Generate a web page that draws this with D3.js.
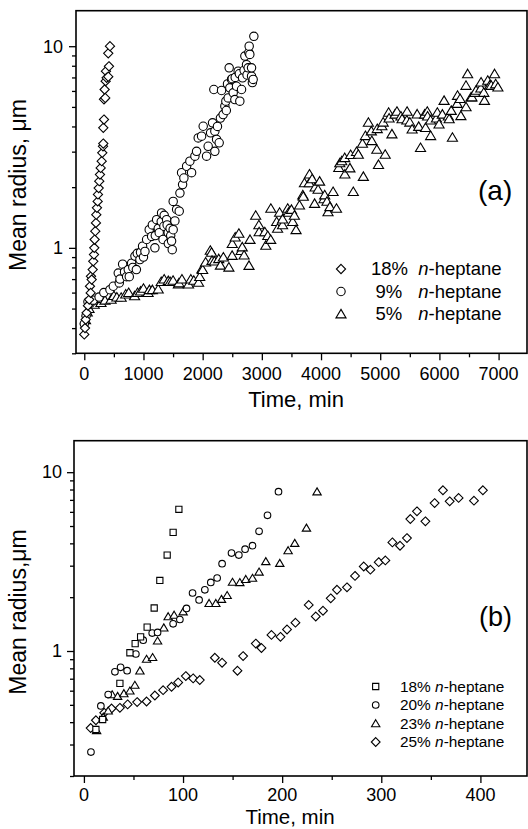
<!DOCTYPE html>
<html><head><meta charset="utf-8">
<script src="https://cdn.jsdelivr.net/npm/d3@7"></script>
<style>
html,body{margin:0;padding:0;background:#fff;}
svg{display:block;}
text{font-family:"Liberation Sans",Arial,Helvetica,sans-serif;fill:#000;}
</style></head>
<body>
<svg id="chart" width="528" height="829"></svg>
<script>
// ---------------- DATA ----------------
// Panel (a): time (min) vs mean radius (µm)
const a_series = ["18%", "9%", "5%"];
const a_hept18 = [[0,0.372],[12,0.40],[24,0.441],[40,0.476],[62,0.517],[84,0.554],[96,0.645],[108,0.598],[113,0.723],[125,0.696],[142,0.78],[152,0.858],[164,0.926],[169,1.0],[175,1.10],[186,1.21],[197,1.33],[203,1.46],[214,1.58],[226,1.70],[231,1.84],[243,1.98],[253,2.14],[265,2.31],[277,2.49],[294,2.69],[304,2.96],[316,3.19],[321,3.29],[321,3.94],[333,4.33],[333,5.45],[344,6.10],[354,5.54],[361,6.71],[366,7.52],[378,6.97],[405,7.06],[417,7.95],[405,9.22],[434,10.0]];
const a_hept9 = [[0,0.42],[30,0.46],[62,0.54],[100,0.53],[150,0.55],[250,0.57],[330,0.6],[434,0.62],[490,0.645],[574,0.75],[591,0.67],[603,0.70],[648,0.83],[680,0.76],[715,0.72],[743,0.78],[760,0.72],[800,0.84],[820,0.80],[856,0.91],[880,0.78],[895,0.94],[940,0.875],[950,0.95],[985,1.02],[1000,0.90],[1025,0.96],[1053,1.10],[1097,1.23],[1138,1.14],[1150,1.30],[1193,1.0],[1200,1.15],[1222,1.38],[1250,1.25],[1266,1.19],[1300,1.35],[1306,1.49],[1330,1.10],[1345,1.28],[1350,1.45],[1391,1.38],[1400,1.30],[1418,1.19],[1420,1.05],[1450,1.25],[1460,1.15],[1475,1.08],[1486,0.98],[1502,1.23],[1502,1.70],[1531,1.36],[1560,1.55],[1604,1.52],[1616,1.87],[1644,2.36],[1661,2.06],[1683,2.22],[1729,2.54],[1784,2.69],[1813,2.36],[1869,2.85],[1897,3.01],[1925,3.51],[1982,3.58],[2009,4.01],[2066,2.85],[2093,3.19],[2134,3.72],[2167,4.17],[2189,6.10],[2206,3.01],[2206,3.79],[2235,3.45],[2250,4.0],[2279,3.32],[2300,4.4],[2319,6.03],[2346,4.58],[2375,5.04],[2392,5.34],[2400,4.8],[2420,6.5],[2431,5.54],[2448,7.81],[2459,6.22],[2488,6.84],[2500,6.9],[2516,5.87],[2544,5.44],[2550,7.0],[2572,6.33],[2600,7.52],[2620,7.3],[2628,5.34],[2657,6.10],[2674,6.97],[2700,7.6],[2713,8.93],[2741,8.10],[2750,7.2],[2769,7.81],[2780,9.3],[2786,10.0],[2797,9.10],[2826,7.10],[2826,7.81],[2840,6.6],[2853,6.84],[2865,11.2]];
const a_hept5 = [[20,0.44],[50,0.48],[80,0.50],[120,0.53],[168,0.525],[200,0.55],[282,0.535],[300,0.56],[350,0.55],[453,0.556],[500,0.58],[550,0.57],[623,0.568],[700,0.59],[750,0.60],[850,0.578],[900,0.60],[950,0.61],[1000,0.63],[1078,0.60],[1100,0.62],[1150,0.62],[1249,0.624],[1300,0.68],[1350,0.70],[1419,0.687],[1450,0.68],[1500,0.69],[1590,0.661],[1600,0.67],[1650,0.70],[1761,0.661],[1800,0.70],[1850,0.69],[1931,0.674],[1950,0.72],[1987,0.786],[2000,0.78],[2050,0.85],[2129,0.972],[2150,0.95],[2158,0.866],[2200,0.86],[2272,0.883],[2300,0.82],[2350,0.90],[2443,0.802],[2498,0.917],[2500,1.05],[2550,1.13],[2612,1.18],[2650,0.97],[2669,1.01],[2700,0.92],[2783,0.818],[2800,1.10],[2896,1.45],[2950,1.30],[2954,1.20],[3050,1.20],[3067,1.03],[3100,1.15],[3150,1.10],[3152,1.57],[3250,1.35],[3266,1.25],[3300,1.50],[3350,1.30],[3351,1.39],[3437,1.57],[3450,1.50],[3500,1.55],[3521,1.35],[3550,1.45],[3578,1.23],[3636,1.63],[3692,1.83],[3700,1.80],[3720,2.10],[3800,2.10],[3805,2.32],[3850,2.20],[3891,1.66],[3900,2.00],[3950,1.95],[3976,2.14],[4050,1.75],[4062,1.83],[4100,1.70],[4118,1.51],[4150,1.60],[4204,1.90],[4261,1.57],[4300,2.50],[4317,2.64],[4350,2.70],[4400,2.80],[4403,2.32],[4488,2.49],[4500,2.90],[4545,1.90],[4600,3.00],[4630,2.91],[4700,3.30],[4715,2.26],[4750,3.60],[4800,4.19],[4850,3.80],[4858,3.40],[4943,3.08],[4950,3.90],[4971,2.59],[5028,4.03],[5050,4.20],[5084,2.91],[5142,4.70],[5150,4.40],[5198,3.67],[5250,4.60],[5283,4.75],[5350,4.50],[5369,4.36],[5450,4.30],[5454,4.75],[5500,4.20],[5539,3.88],[5624,4.61],[5650,4.00],[5681,3.14],[5750,4.60],[5766,3.95],[5795,4.75],[5800,4.50],[5850,4.30],[5852,3.60],[5950,4.40],[5965,4.70],[5994,4.11],[6050,4.60],[6079,5.38],[6150,4.50],[6165,4.36],[6200,4.80],[6220,3.53],[6300,5.20],[6306,5.70],[6350,5.50],[6363,4.52],[6449,6.39],[6450,5.00],[6477,7.30],[6534,5.59],[6550,5.60],[6600,5.90],[6619,6.04],[6700,6.20],[6704,6.64],[6750,5.90],[6761,5.38],[6817,6.77],[6850,6.40],[6875,6.39],[6932,7.30],[6950,6.50],[6988,6.27]];
const a_xTicks = [0,1000,2000,3000,4000,5000,6000,7000];
const a_xMinor = [500,1500,2500,3500,4500,5500,6500];

// Panel (b)
const b_series = ["18%", "20%", "23%", "25%"];
const b_hept18 = [[12.1,0.364],[18.9,0.414],[36.3,0.659],[46.4,0.978],[51.7,1.10],[57.2,1.20],[63.8,1.36],[70.9,1.74],[76.6,2.48],[84.0,3.44],[90.0,4.61],[95.8,6.20]];
const b_hept20 = [[7.1,0.272],[17.1,0.493],[24.5,0.571],[31.3,0.765],[37.0,0.81],[43.6,0.776],[52.4,0.962],[59.8,1.15],[68.9,1.26],[74.3,1.27],[90.0,1.42],[96.8,1.50],[103.5,1.73],[109.6,2.11],[116.2,1.93],[122.0,2.20],[128.0,2.42],[134.4,2.56],[139.4,3.08],[148.9,3.53],[156.3,3.44],[162.6,3.71],[170.1,3.88],[176.7,4.67],[185.2,5.74],[196.3,7.78]];
const b_hept23 = [[12.8,0.36],[19.5,0.428],[24.5,0.463],[28.5,0.571],[34.0,0.559],[40.3,0.579],[46.4,0.599],[51.4,0.645],[56.5,0.776],[63.2,0.902],[69.3,0.922],[74.3,1.14],[80.6,1.35],[85.0,1.56],[91.0,1.59],[100.1,1.66],[126.3,1.85],[133.1,1.85],[138.8,1.95],[144.5,2.05],[149.9,2.43],[157.3,2.42],[163.3,2.52],[170.1,2.56],[176.7,2.77],[183.5,3.17],[197.6,3.10],[206.0,3.65],[212.7,4.01],[224.5,4.88],[235.2,7.78]];
const b_hept25 = [[6.8,0.371],[12.1,0.41],[20.5,0.451],[27.9,0.477],[36.3,0.481],[44.1,0.503],[53.7,0.518],[63.2,0.522],[71.6,0.564],[79.9,0.604],[88.4,0.631],[95.1,0.667],[102.8,0.724],[110.2,0.703],[116.9,0.688],[132.1,0.917],[139.4,0.86],[154.9,0.776],[160.6,0.937],[173.4,1.10],[179.1,1.04],[189.2,1.23],[198.3,1.20],[204.9,1.32],[213.4,1.44],[226.8,1.81],[233.9,1.56],[241.2,1.68],[249.0,1.97],[255.3,2.20],[265.4,2.27],[273.5,2.63],[282.3,2.97],[289.0,2.85],[297.4,3.14],[304.1,3.21],[311.2,4.05],[318.9,3.88],[325.9,4.28],[329.3,5.47],[336.0,6.04],[344.5,5.31],[353.8,6.72],[362.2,7.92],[369.0,6.87],[378.0,7.18],[393.5,6.93],[402.5,7.92]];
const b_xTicks = [0,100,200,300,400];
const b_xMinor = [50,150,250,350];

// ---------------- DRAWING ----------------
const svg = d3.select("#chart");

function shapePath(kind, s) {
  if (kind === "diamond") return `M0,${-s}L${s},0L0,${s}L${-s},0Z`;
  if (kind === "square") return `M${-s},${-s}H${s}V${s}H${-s}Z`;
  if (kind === "triangle") return `M0,${-s}L${s*1.1},${s*0.85}L${-s*1.1},${s*0.85}Z`;
  return null;
}
function drawMarks(g, data, x, y, kind, s, sw) {
  const sel = g.append("g");
  data.forEach(d => {
    if (kind === "circle") {
      sel.append("circle").attr("cx", x(d[0])).attr("cy", y(d[1])).attr("r", s)
        .attr("fill", "#fff").attr("stroke", "#000").attr("stroke-width", sw);
    } else {
      sel.append("path").attr("transform", `translate(${x(d[0])},${y(d[1])})`)
        .attr("d", shapePath(kind, s))
        .attr("fill", "#fff").attr("stroke", "#000").attr("stroke-width", sw);
    }
  });
}
function legendMark(g, kind, cx, cy, s, sw) {
  if (kind === "circle") {
    g.append("circle").attr("cx", cx).attr("cy", cy).attr("r", s)
      .attr("fill", "#fff").attr("stroke", "#000").attr("stroke-width", sw);
  } else {
    g.append("path").attr("transform", `translate(${cx},${cy})`).attr("d", shapePath(kind, s))
      .attr("fill", "#fff").attr("stroke", "#000").attr("stroke-width", sw);
  }
}

function drawAxes(g, x, y, cfg) {
  const [x0, x1] = x.range(), [yb, yt] = y.range();
  g.append("g").attr("transform", `translate(0,${yb})`)
    .call(d3.axisBottom(x).tickValues(cfg.xTicks).tickSize(7).tickFormat(""))
    .call(s => { s.select(".domain").remove(); s.selectAll("line").attr("stroke-width", 1.3); });
  g.append("g").attr("transform", `translate(0,${yb})`)
    .call(d3.axisBottom(x).tickValues(cfg.xMinor).tickSize(4).tickFormat(""))
    .call(s => { s.select(".domain").remove(); s.selectAll("line").attr("stroke-width", 1.3); });
  g.selectAll(null).data(cfg.xTicks).enter().append("text")
    .attr("x", d => x(d)).attr("y", yb + cfg.tickLabelDy)
    .attr("text-anchor", "middle").attr("font-size", 18).text(d => d);
  const [d0, d1] = y.domain();
  const all = [];
  for (let e = -2; e <= 2; e++) for (let m = 1; m <= 9; m++) {
    const v = +(m * Math.pow(10, e)).toPrecision(3);
    if (v >= d0 - 1e-9 && v <= d1 + 1e-9) all.push(v);
  }
  const major = all.filter(v => Math.abs(Math.log10(v) - Math.round(Math.log10(v))) < 1e-9);
  const minor = all.filter(v => !major.includes(v));
  g.append("g").attr("transform", `translate(${x0},0)`)
    .call(d3.axisLeft(y).tickValues(major).tickSize(7).tickFormat(""))
    .call(s => { s.select(".domain").remove(); s.selectAll("line").attr("stroke-width", 1.3); });
  g.append("g").attr("transform", `translate(${x0},0)`)
    .call(d3.axisLeft(y).tickValues(minor).tickSize(4).tickFormat(""))
    .call(s => { s.select(".domain").remove(); s.selectAll("line").attr("stroke-width", 1.3); });
  g.selectAll(null).data(major).enter().append("text")
    .attr("x", cfg.yLabelX).attr("y", d => y(d)).attr("dy", "0.35em")
    .attr("text-anchor", "end").attr("font-size", 18).text(d => d3.format("~g")(d));
  g.append("rect").attr("x", x0).attr("y", yt).attr("width", x1 - x0).attr("height", yb - yt)
    .attr("fill", "none").attr("stroke", "#000").attr("stroke-width", 1.6);
}

// ---- Panel (a)
{
  const g = svg.append("g");
  const x = d3.scaleLinear().domain([-140, 7480]).range([76, 527]);
  const y = d3.scaleLog().domain([0.3, 15]).range([353.3, 10.7]);
  drawMarks(g, a_hept5, x, y, "triangle", 4.6, 1.1);
  drawMarks(g, a_hept9, x, y, "circle", 4.2, 1.1);
  drawMarks(g, a_hept18, x, y, "diamond", 4.6, 1.1);
  drawAxes(g, x, y, {xTicks: a_xTicks, xMinor: a_xMinor, tickLabelDy: 26.7, yLabelX: 63});
  g.append("text").attr("x", 296).attr("y", 407).attr("text-anchor", "middle")
    .attr("font-size", 22).text("Time, min");
  g.append("text").attr("transform", "translate(26,185) rotate(-90)").attr("text-anchor", "middle")
    .attr("font-size", 23).text("Mean radius, \u03bcm");
  g.append("text").attr("x", 478).attr("y", 190).attr("dy", "0.35em")
    .attr("font-size", 28).text("(a)");
  const kinds = ["diamond", "circle", "triangle"];
  const rowsY = [269, 291.5, 314];
  const numX = [371, 375.5, 375.5];
  a_series.forEach((s, i) => {
    legendMark(g, kinds[i], 341, rowsY[i], kinds[i] === "circle" ? 4.2 : 4.6, 1.1);
    g.append("text").attr("x", numX[i]).attr("y", rowsY[i]).attr("dy", "0.35em")
      .attr("font-size", 18.5).text(s);
    const t = g.append("text").attr("x", 418.3).attr("y", rowsY[i]).attr("dy", "0.35em").attr("font-size", 18.5);
    t.append("tspan").attr("font-style", "italic").text("n");
    t.append("tspan").text("-heptane");
  });
}

// ---- Panel (b)
{
  const g = svg.append("g");
  const x = d3.scaleLinear().domain([-10, 447]).range([74, 527]);
  const y = d3.scaleLog().domain([0.2, 15]).range([776, 440.7]);
  drawMarks(g, b_hept25, x, y, "diamond", 4.4, 1.1);
  drawMarks(g, b_hept23, x, y, "triangle", 3.8, 1.1);
  drawMarks(g, b_hept20, x, y, "circle", 3.3, 1.1);
  drawMarks(g, b_hept18, x, y, "square", 3.1, 1.1);
  drawAxes(g, x, y, {xTicks: b_xTicks, xMinor: b_xMinor, tickLabelDy: 24.5, yLabelX: 62});
  g.append("text").attr("x", 290).attr("y", 824).attr("text-anchor", "middle")
    .attr("font-size", 20.5).text("Time, min");
  g.append("text").attr("transform", "translate(26,612) rotate(-90)").attr("text-anchor", "middle")
    .attr("font-size", 23).text("Mean radius,\u03bcm");
  g.append("text").attr("x", 479).attr("y", 616.7).attr("dy", "0.35em")
    .attr("font-size", 27).text("(b)");
  const kinds = ["square", "circle", "triangle", "diamond"];
  const sizes = [3.1, 3.3, 3.8, 4.4];
  const rowsY = [686.5, 705, 723.5, 742];
  b_series.forEach((s, i) => {
    legendMark(g, kinds[i], 375.7, rowsY[i], sizes[i], 1.1);
    const t = g.append("text").attr("x", 400).attr("y", rowsY[i]).attr("dy", "0.35em").attr("font-size", 15.4);
    t.append("tspan").text(s + " ");
    t.append("tspan").attr("font-style", "italic").text("n");
    t.append("tspan").text("-heptane");
  });
}
</script>
</body></html>
